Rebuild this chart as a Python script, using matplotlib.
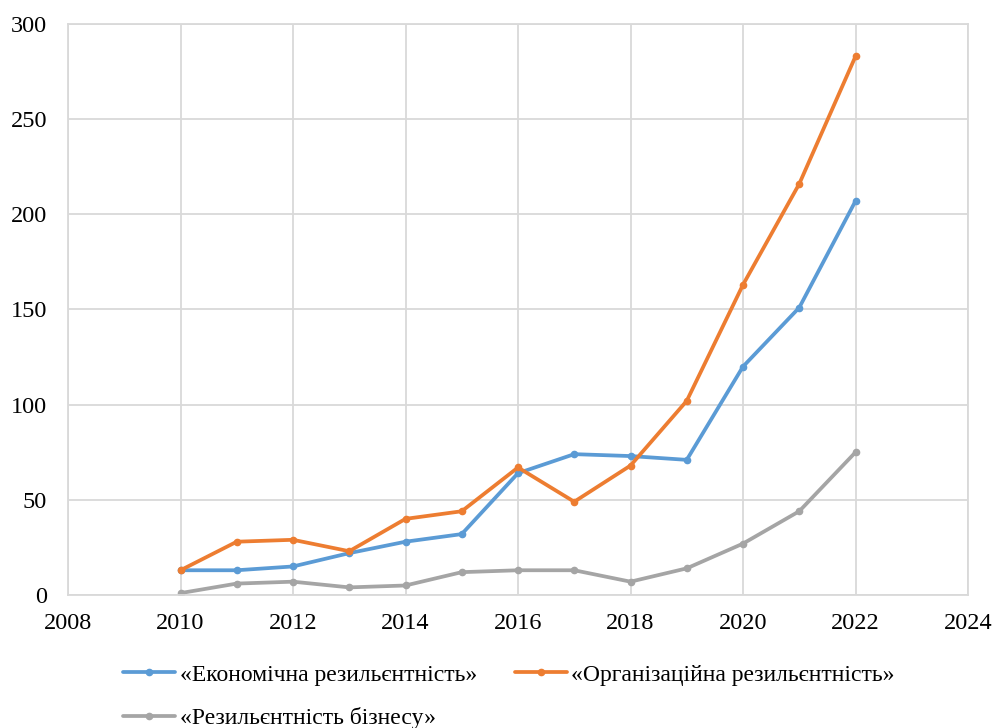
import numpy as np
import matplotlib.pyplot as plt

years = [2010, 2011, 2012, 2013, 2014, 2015, 2016, 2017, 2018, 2019, 2020, 2021, 2022]
econ = [13, 13, 15, 22, 28, 32, 64, 74, 73, 71, 120, 151, 207]
org = [13, 28, 29, 23, 40, 44, 67, 49, 68, 102, 163, 216, 283]
business = [1, 6, 7, 4, 5, 12, 13, 13, 7, 14, 27, 44, 75]

labels = ["«Економічна резильєнтність»",
          "«Організаційна резильєнтність»",
          "«Резильєнтність бізнесу»"]
colors = ["#5b9bd5", "#ed7d31", "#a5a5a5"]

plt.rcParams['font.family'] = ['Liberation Serif', 'DejaVu Serif']

fig = plt.figure(figsize=(9.94, 7.28), dpi=100)
ax = fig.add_axes([68 / 994, 1 - 595 / 728, 900 / 994, 571 / 728])

handles = []
for series, lab, col in zip([econ, org, business], labels, colors):
    h, = ax.plot(years, series, color=col, lw=2.7, marker='o', ms=4.5,
                 label=lab, solid_capstyle='round')
    handles.append(h)

ax.set_xlim(2008, 2024)
ax.set_ylim(0, 300)
ax.set_xticks(np.arange(2008, 2025, 2))
ax.set_yticks(np.arange(0, 301, 50))
ax.grid(True, color='#d9d9d9', lw=1.3)
ax.set_axisbelow(True)
for sp in ax.spines.values():
    sp.set_color('#d9d9d9')
    sp.set_linewidth(1.3)
ax.tick_params(length=0, labelsize=17.5, colors='black')
ax.tick_params(axis='x', pad=13)
ax.tick_params(axis='y', pad=15)

# row-major order: econ, org on first row, business below
fig.legend([handles[0], handles[2], handles[1]],
           [labels[0], labels[2], labels[1]],
           ncol=2, frameon=False, fontsize=17,
           loc='upper left', bbox_to_anchor=(123 / 994, 1 - 664 / 728),
           borderpad=0, borderaxespad=0,
           handlelength=2.2, handletextpad=0.2, columnspacing=1.6,
           labelspacing=0.92)

fig.savefig('out.png', dpi=100)
